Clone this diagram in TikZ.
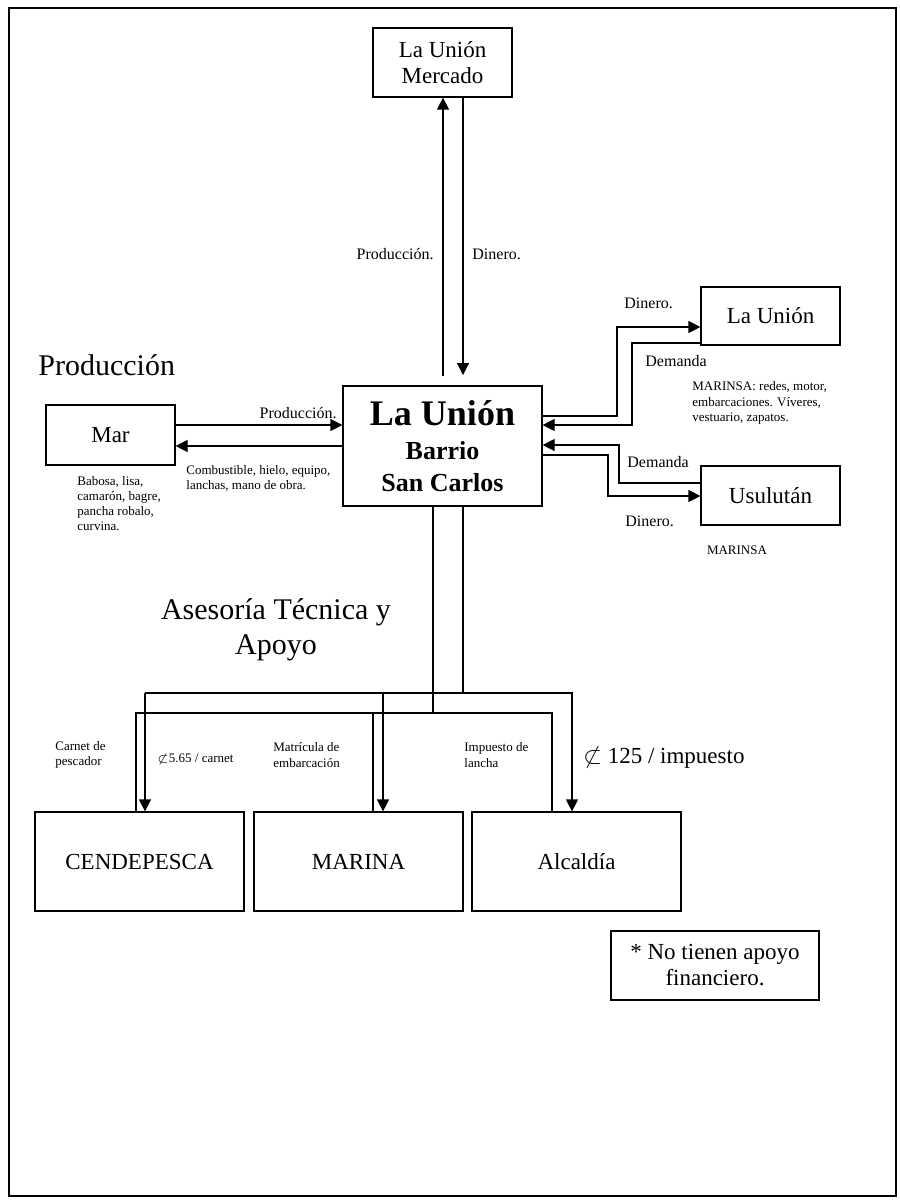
\documentclass[tikz,border=0pt]{standalone}
\usepackage{fontspec}
\setmainfont{Liberation Serif}
\usetikzlibrary{arrows.meta}
\begin{document}
\begin{tikzpicture}[x=0.5pt,y=-0.5pt,
  box/.style={draw,line width=0.6pt,inner sep=0pt,align=center,font=\fontsize{11.5}{13}\selectfont},
  arr/.style={-{Triangle[length=6pt,width=6pt]}},
  ln/.style={line width=0.6pt},
  lbl/.style={inner sep=0pt,font=\fontsize{8}{9.5}\selectfont},
  small/.style={inner sep=0pt,align=left,font=\fontsize{6.5}{7.6}\selectfont},
  head/.style={inner sep=0pt,font=\fontsize{15}{17.5}\selectfont}]
\useasboundingbox (0,0) rectangle (900,1200);
\draw[line width=1.2pt] (9,8) rectangle (896,1196);

% boxes
\node[box,minimum width=69.5pt,minimum height=34.5pt] (merc) at (442.5,62.5) {La Unión\\Mercado};
\node[box,minimum width=99.5pt,minimum height=60pt,font=\bfseries\fontsize{13}{16}\selectfont] (cen) at (442.5,446)
  {{\fontsize{18}{16}\selectfont La Unión}\\[0.75pt]Barrio\\San Carlos};
\node[box,minimum width=69.5pt,minimum height=29pt] (lu) at (770.5,316) {La Unión};
\node[box,minimum width=69.5pt,minimum height=29.5pt] (usu) at (770.5,495.5) {Usulután};
\node[box,minimum width=64.5pt,minimum height=30pt] (mar) at (110.5,435) {Mar};
\node[box,minimum width=104.5pt,minimum height=49.5pt] (cende) at (139.5,861.5) {CENDEPESCA};
\node[box,minimum width=104.5pt,minimum height=49.5pt] (marina) at (358.5,861.5) {MARINA};
\node[box,minimum width=104.5pt,minimum height=49.5pt] (alc) at (576.5,861.5) {Alcaldía};
\node[box,minimum width=104pt,minimum height=34.5pt] (note) at (715,965.5) {* No tienen apoyo\\financiero.};

% Mercado connectors
\coordinate (mu) at (443,376);
\coordinate (md) at (463,375);
\draw[ln,arr] (mu) -- (mu |- merc.south);
\draw[ln,arr] (md |- merc.south) -- (md);

% right side
\coordinate (k1) at (617,327);
\draw[ln,arr] (cen.east |- 0,416) -| (k1) -- (k1 -| lu.west);
\coordinate (k2) at (632,425);
\draw[ln,arr] (lu.west |- 0,343) -| (k2) -- (k2 -| cen.east);
\coordinate (k3) at (619,445);
\draw[ln,arr] (usu.west |- 0,483) -| (k3) -- (k3 -| cen.east);
\coordinate (k4) at (608,496);
\draw[ln,arr] (cen.east |- 0,455) -| (k4) -- (k4 -| usu.west);

% Mar
\draw[ln,arr] (mar.east |- 0,425) -- (cen.west |- 0,425);
\draw[ln,arr] (cen.west |- 0,446) -- (mar.east |- 0,446);

% bottom lower (no arrows)
\coordinate (b1) at (433,713);
\coordinate (l1) at (136,713);
\coordinate (l2) at (373,713);
\coordinate (l3) at (552,713);
\draw[ln] (cen.south -| b1) -- (b1);
\draw[ln] (cende.north -| l1) -- (l1) -- (l3) -- (alc.north -| l3);
\draw[ln] (l2) -- (marina.north -| l2);

% bottom upper (arrows)
\coordinate (b2) at (463,693);
\coordinate (u1) at (145,693);
\coordinate (u2) at (383,693);
\coordinate (u3) at (572,693);
\draw[ln] (cen.south -| b2) -- (b2);
\draw[ln,arr] (u1) -- (u3) -- (alc.north -| u3);
\draw[ln,arr] (u1) -- (cende.north -| u1);
\draw[ln,arr] (u2) -- (marina.north -| u2);

% labels
\node[lbl,anchor=east] (lp1) at (434,254) {Producción.};
\node[lbl,anchor=west] (ld1) at (472,254) {Dinero.};
\node[head,anchor=west] (hprod) at (38,365) {Producción};
\node[lbl,anchor=east] (lp2) at (337,413) {Producción.};
\node[small,anchor=west] (lcomb) at (186,478.5) {Combustible, hielo, equipo,\\lanchas, mano de obra.};
\node[small,anchor=west] (lbab) at (77,503.5) {Babosa, lisa,\\camarón, bagre,\\pancha robalo,\\curvina.};
\node[lbl,anchor=west] (ld2) at (624,303) {Dinero.};
\node[lbl,anchor=west] (ldm1) at (645,361) {Demanda};
\node[small,anchor=west] (lmar) at (692,403) {MARINSA: redes, motor,\\embarcaciones. Víveres,\\vestuario, zapatos.};
\node[lbl,anchor=west] (ldm2) at (627,462) {Demanda};
\node[lbl,anchor=west] (ld3) at (625,521) {Dinero.};
\node[small] (lmarinsa) at (737,550) {MARINSA};
\node[head,align=center] (hases) at (276,630) {Asesoría Técnica y\\Apoyo};
\node[small,anchor=west] (lcar) at (55,755) {Carnet de\\pescador};
\node[small,anchor=west] (lcc) at (157,759) {$\not\subset$5.65 / carnet};
\node[small,anchor=west] (lmat) at (273,755) {Matrícula de\\embarcación};
\node[small,anchor=west] (limp) at (464,755) {Impuesto de\\lancha};
\node[anchor=west,inner sep=0pt,font=\fontsize{11.5}{13}\selectfont] (limp2) at (583,758) {$\not\subset$\ 125 / impuesto};
\end{tikzpicture}
\end{document}
